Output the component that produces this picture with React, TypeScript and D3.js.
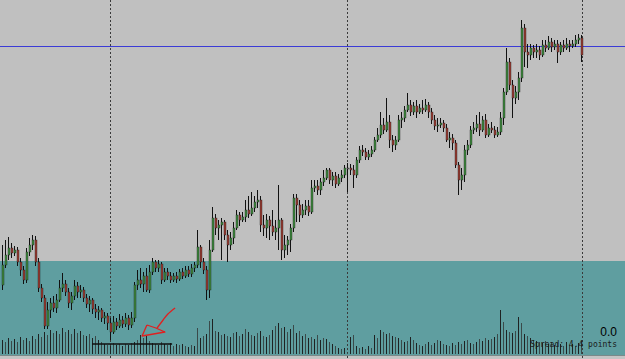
import * as d3 from 'd3';

// price in points (higher = up), one candle per bar
const open = [75,95,105,112,107,110,98,90,80,108,115,120,98,72,62,34,50,57,52,60,72,76,68,57,64,74,68,70,62,56,60,51,48,50,42,44,37,28,38,34,40,36,42,35,42,75,80,76,84,70,88,98,92,96,80,88,84,80,84,81,88,84,90,86,92,95,113,98,90,70,110,142,132,135,138,125,115,122,132,145,140,143,150,146,152,158,160,135,132,140,134,128,132,140,110,115,120,132,162,155,145,150,154,148,172,174,170,178,182,190,180,184,176,182,185,192,192,190,185,200,210,208,203,206,210,220,225,235,230,238,220,215,220,240,242,250,255,248,254,248,252,250,255,248,240,234,235,237,232,220,222,217,195,180,185,210,215,230,232,236,230,240,225,232,230,225,228,242,268,298,275,262,268,282,332,308,305,312,308,310,305,315,312,318,313,316,308,315,312,316,314,316,320,322];
const high = [115,120,123,117,114,113,102,94,112,122,125,124,102,76,65,58,62,64,66,80,87,80,72,68,80,78,75,73,66,64,62,56,54,52,48,47,42,44,42,46,44,47,45,48,78,90,92,88,92,95,102,100,100,98,92,92,88,87,88,91,92,94,94,96,98,130,115,102,94,120,153,146,140,142,140,130,128,138,150,148,148,160,164,168,164,170,164,145,146,144,150,140,175,142,125,124,136,166,166,160,156,160,160,180,180,180,182,190,192,192,188,188,186,190,195,197,196,195,203,214,215,212,210,214,223,232,248,242,262,245,225,224,245,248,254,267,260,258,260,256,260,261,258,252,245,242,242,240,236,228,226,220,198,192,215,220,234,238,245,248,244,246,236,238,234,233,248,272,312,302,280,274,288,340,336,316,316,315,316,314,320,320,324,322,320,320,318,320,322,320,320,325,326,325];
const low = [70,92,100,102,104,94,84,76,77,104,110,94,68,58,31,31,42,48,47,58,68,64,52,50,60,62,62,58,52,48,46,42,40,38,36,30,20,26,30,32,32,33,30,32,38,70,72,68,68,67,85,88,88,76,78,80,77,78,77,79,81,82,83,83,88,92,92,86,60,62,108,125,120,100,120,98,110,116,130,134,138,138,142,144,148,152,128,124,122,120,124,120,110,100,102,105,108,128,138,138,142,145,144,146,168,165,165,174,180,176,174,172,174,178,182,168,185,172,182,197,204,200,200,203,208,218,222,226,228,212,208,210,218,232,238,248,244,245,242,246,246,248,242,236,230,228,232,228,218,212,210,192,165,170,178,205,212,226,228,224,228,222,223,227,222,223,225,235,265,270,242,256,260,278,293,292,300,302,302,300,303,308,310,308,310,297,305,308,310,308,312,313,316,298];
const close = [95,105,112,107,110,98,90,80,108,115,120,98,72,62,34,50,57,52,60,72,76,68,57,64,74,68,70,62,56,60,51,48,50,42,44,37,28,38,34,40,36,42,35,42,75,80,76,84,70,88,98,92,96,80,88,84,80,84,81,88,84,90,86,92,95,113,98,90,70,110,142,132,135,138,125,115,122,132,145,140,143,150,146,152,158,160,135,132,140,134,128,132,140,110,115,120,132,162,155,145,150,154,148,172,174,170,178,182,190,180,184,176,182,185,192,192,190,185,200,210,208,203,206,210,220,225,235,230,238,220,215,220,240,242,250,255,248,254,248,252,250,255,248,240,234,235,237,232,220,222,217,195,180,185,210,215,230,232,236,230,240,225,232,230,225,228,242,268,298,275,262,268,282,332,308,305,312,308,310,305,315,312,318,313,316,308,315,312,316,314,316,320,322,305];
const volume = [14,12,16,13,15,12,17,14,16,13,18,15,20,17,22,19,24,21,23,20,26,22,24,20,25,21,23,19,18,20,16,18,14,12,10,9,8,11,9,10,8,10,9,11,12,14,19,16,18,13,11,10,9,12,10,9,11,8,10,9,10,8,7,9,8,26,16,18,20,33,35,23,22,19,20,18,17,21,22,18,20,25,22,19,18,21,23,18,17,19,24,28,31,26,27,22,25,29,21,23,18,20,16,17,15,19,14,16,15,12,10,8,6,5,6,1,17,19,8,6,7,5,8,6,19,16,24,22,20,21,18,17,16,14,12,13,17,14,11,9,8,10,12,9,11,14,13,10,9,8,11,9,12,10,13,14,11,10,12,15,13,16,14,15,17,20,44,32,24,22,21,23,37,31,20,18,16,14,13,12,11,13,10,12,9,11,10,8,12,9,10,8,11,13];

const levelPrice = 314;
const separatorBars = [36, 115, 193.3];
// hand drawn marks, in [bar, price] and [bar, volume]
const arrowShaft = [[57.7, 52], [55.3, 46], [53.7, 40], [51.7, 32]];
const arrowHead = [[48.3, 35], [46.7, 24], [54.3, 28], [51.3, 32], [48.3, 35]];
const supportLine = [[30, 10], [56.7, 10]];

const colors = {
  chart: '#c0c0c0',
  pane: '#5f9ea0',
  up: '#3f8a3f',
  down: '#9a3d33',
  flat: '#7a7a7a',
};

export default function App() {
  const n = close.length;
  const x = d3.scaleLinear().domain([0, n - 1]).range([2, 581]);
  const y = d3.scaleLinear().domain([0, 360]).range([360, 0]);
  const yv = d3.scaleLinear().domain([0, 50]).range([354, 304]);
  const shaft = d3.line().x(d => x(d[0])).y(d => y(d[1])).curve(d3.curveCatmullRom);
  const head = d3.line().x(d => x(d[0])).y(d => y(d[1]));

  return (
    <svg width={625} height={359} style={{ position: 'fixed', left: 0, top: 0, display: 'block' }}>
      <rect x={0} y={0} width={625} height={261} fill={colors.chart} />
      <rect x={0} y={261} width={625} height={94} fill={colors.pane} />
      <rect x={0} y={355} width={625} height={4} fill="#c4c4c4" />
      <line x1={0} x2={625} y1={355.5} y2={355.5} stroke="#7a8a8a" />

      {separatorBars.map((b, i) => (
        <line key={i} x1={Math.round(x(b)) + 0.5} x2={Math.round(x(b)) + 0.5} y1={0} y2={359}
          stroke="#3a3a3a" strokeDasharray="2,2" />
      ))}

      {volume.map((v, i) => (
        <line key={i} x1={Math.round(x(i)) + 0.5} x2={Math.round(x(i)) + 0.5} y1={yv(0)} y2={yv(v)}
          stroke={i % 2 ? '#3a4a4a' : '#1e2222'} strokeWidth={1} />
      ))}

      <line x1={0} x2={625} y1={Math.round(y(levelPrice)) + 0.5} y2={Math.round(y(levelPrice)) + 0.5}
        stroke="#3b3bd6" strokeWidth={1} />

      {close.map((c, i) => {
        const cx = Math.round(x(i));
        const o = open[i];
        const top = y(Math.max(o, c));
        const bot = y(Math.min(o, c));
        const fill = c > o ? colors.up : c < o ? colors.down : colors.flat;
        return (
          <g key={i}>
            <line x1={cx + 0.5} x2={cx + 0.5} y1={y(high[i])} y2={y(low[i])} stroke="#111" strokeWidth={1} />
            <rect x={cx} y={top} width={2} height={Math.max(1, bot - top)} fill={fill}
              stroke="#111" strokeWidth={0.35} />
          </g>
        );
      })}

      <line x1={x(supportLine[0][0])} x2={x(supportLine[1][0])} y1={yv(supportLine[0][1])} y2={yv(supportLine[1][1])}
        stroke="#111" strokeWidth={1.6} />
      <path d={shaft(arrowShaft)} fill="none" stroke="#e02020" strokeWidth={1.3} />
      <path d={head(arrowHead)} fill="none" stroke="#e02020" strokeWidth={1.3} strokeLinejoin="round" />

      <text x={617} y={336} textAnchor="end" fontFamily="Liberation Sans, Arial, sans-serif" fontSize={12} fill="#000">0.0</text>
      <text x={617} y={347} textAnchor="end" fontFamily="DejaVu Sans Mono, monospace" fontSize={8} fill="#1a1a1a">Spread: 4.4 points</text>
    </svg>
  );
}
